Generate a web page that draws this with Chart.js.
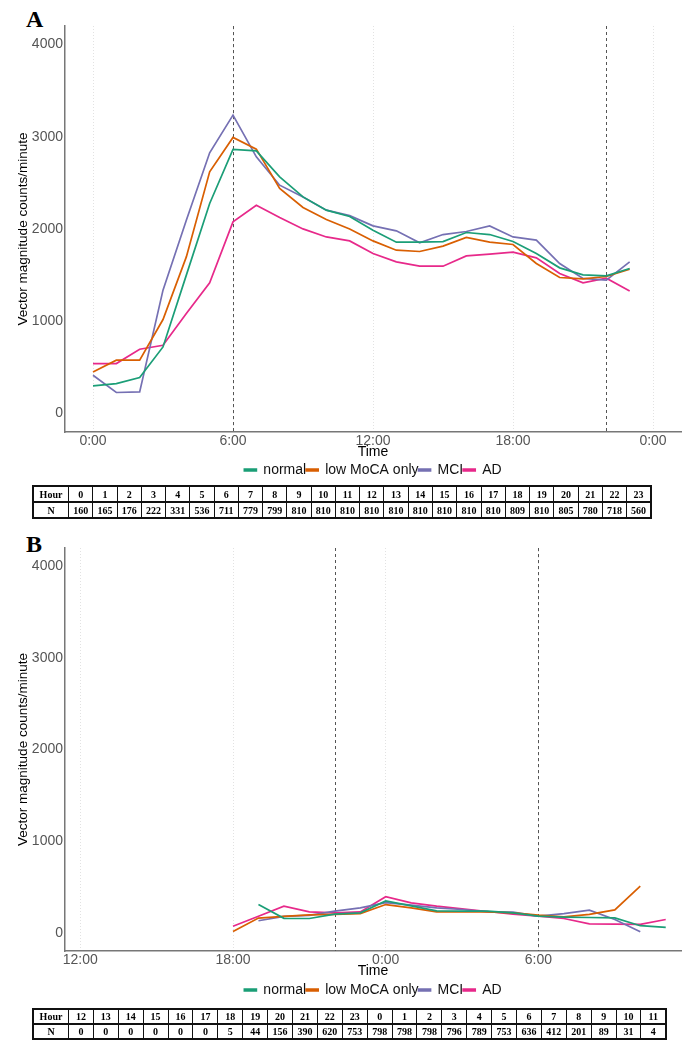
<!DOCTYPE html>
<html>
<head>
<meta charset="utf-8">
<script src="https://cdn.jsdelivr.net/npm/chart.js@4/dist/chart.umd.min.js"></script>
<style>
  body { margin: 0; background: #fff; }
  #page { position: relative; width: 691px; height: 1050px; }
  .panel { position: absolute; left: 0; width: 691px; }
  .tag { position: absolute; left: 26px; font: bold 24px "Liberation Serif", "Times New Roman", serif; color: #000; }
  table.ntab { position: absolute; left: 32px; border-collapse: collapse; border: 2px solid #111;
    font: bold 10px "Liberation Serif", "Times New Roman", serif; table-layout: fixed; }
  table.ntab td { border: 1px solid #111; text-align: center; padding: 0; }
  table.ntab tr:first-child td { border-bottom: 2px solid #111; }
  table.ntab td:first-child { width: 34px; }
</style>
</head>
<body>
<div id="page">
  <div class="tag" style="top:6px">A</div>
  <div class="panel" style="top:0;height:487px"><canvas id="chartA"></canvas></div>
  <table class="ntab" id="tableA" style="top:485px;width:620px;height:34px"></table>

  <div class="tag" style="top:531px">B</div>
  <div class="panel" style="top:520px;height:487px"><canvas id="chartB"></canvas></div>
  <table class="ntab" id="tableB" style="top:1008px;width:635px;height:32px"></table>
</div>
<script>
// --------------------------
// data
// --------------------------
const groupNames = ['normal', 'low MoCA only', 'MCI', 'AD'];
const groupColors = ['#1b9e77', '#d95f02', '#7570b3', '#e7298a'];

// panel A : hour of day 0..23
const hoursA = [0, 1, 2, 3, 4, 5, 6, 7, 8, 9, 10, 11, 12, 13, 14, 15, 16, 17, 18, 19, 20, 21, 22, 23];
const normalA = [299, 325, 390, 722, 1500, 2276, 2862, 2847, 2565, 2348, 2204, 2135, 1987, 1857, 1857, 1864, 1962, 1940, 1864, 1734, 1579, 1503, 1492, 1572];
const lowMocaA = [451, 578, 578, 1019, 1698, 2619, 2992, 2865, 2439, 2233, 2103, 2001, 1871, 1770, 1756, 1814, 1908, 1857, 1832, 1626, 1474, 1459, 1485, 1564];
const mciA = [415, 228, 234, 1337, 2095, 2826, 3234, 2782, 2475, 2348, 2204, 2145, 2034, 1980, 1850, 1940, 1973, 2034, 1914, 1879, 1626, 1464, 1445, 1644];
const adA = [542, 542, 697, 740, 1084, 1416, 2077, 2258, 2125, 2001, 1914, 1871, 1734, 1644, 1597, 1597, 1708, 1727, 1749, 1687, 1518, 1416, 1467, 1329];
const ticksA = [0, 6, 12, 18, 24];
const cutLinesA = [6, 22];

// panel B : night, 18:00 .. 11:00 next day
const hoursB = [18, 19, 20, 21, 22, 23, 0, 1, 2, 3, 4, 5, 6, 7, 8, 9, 10, 11];
const normalB = [null, 307, 157, 155, 202, 217, 347, 292, 238, 235, 235, 217, 180, 170, 166, 162, 76, 58];
const lowMocaB = [14, 160, 177, 195, 200, 209, 307, 271, 227, 227, 227, 217, 191, 173, 199, 249, 509, null];
const mciB = [null, 130, 177, 190, 236, 271, 329, 300, 271, 253, 227, 224, 180, 209, 245, 144, 11, null];
const adB = [70, 180, 289, 227, 217, 227, 393, 325, 289, 260, 231, 202, 180, 155, 97, 94, 90, 144];
const ticksB = [12, 18, 24, 30];
const cutLinesB = [22, 30];

const yTicks = [0, 1000, 2000, 3000, 4000];

// N tables
const tableHoursA = [0, 1, 2, 3, 4, 5, 6, 7, 8, 9, 10, 11, 12, 13, 14, 15, 16, 17, 18, 19, 20, 21, 22, 23];
const nA = [160, 165, 176, 222, 331, 536, 711, 779, 799, 810, 810, 810, 810, 810, 810, 810, 810, 810, 809, 810, 805, 780, 718, 560];
const tableHoursB = [12, 13, 14, 15, 16, 17, 18, 19, 20, 21, 22, 23, 0, 1, 2, 3, 4, 5, 6, 7, 8, 9, 10, 11];
const nB = [0, 0, 0, 0, 0, 0, 5, 44, 156, 390, 620, 753, 798, 798, 798, 796, 789, 753, 636, 412, 201, 89, 31, 4];

// --------------------------
const SANS = '"Liberation Sans", Arial, sans-serif';

// vertical dashed reference lines
const cutLinesPlugin = {
  id: 'cutLines',
  beforeDatasetsDraw(chart, args, opts) {
    const {ctx, chartArea, scales} = chart;
    ctx.save();
    ctx.strokeStyle = '#555';
    ctx.lineWidth = 1;
    ctx.setLineDash([3, 3]);
    (opts.hours || []).forEach(h => {
      const x = Math.round(scales.x.getPixelForValue(h)) + 0.5;
      ctx.beginPath();
      ctx.moveTo(x, chartArea.top);
      ctx.lineTo(x, chartArea.bottom);
      ctx.stroke();
    });
    ctx.restore();
  }
};

function makeDatasets(xs, series) {
  return series.map((vals, i) => ({
    label: groupNames[i],
    data: xs.map((x, j) => ({x: x, y: vals[j]})),
    borderColor: groupColors[i],
    backgroundColor: groupColors[i],
    borderWidth: 1.7,
    pointRadius: 0,
    tension: 0,
    spanGaps: false
  }));
}

function makeChart(id, datasets, xMin, xMax, xTicks, cuts, topPad, xAxisH, titlePad) {
  return new Chart(document.getElementById(id), {
    type: 'line',
    data: {datasets: datasets},
    options: {
      responsive: true,
      maintainAspectRatio: false,
      animation: false,
      layout: {padding: {top: topPad, right: 10, left: 0, bottom: 0}},
      scales: {
        x: {
          type: 'linear',
          min: xMin,
          max: xMax,
          afterBuildTicks: s => { s.ticks = xTicks.map(v => ({value: v})); },
          afterFit: s => { s.height = xAxisH; },
          ticks: {
            autoSkip: false,
            maxRotation: 0,
            padding: 1,
            color: '#555',
            font: {family: SANS, size: 14},
            callback: v => (v % 24) + ':00'
          },
          grid: {color: '#e2e2e2', lineWidth: 1, drawTicks: false},
          border: {display: true, color: '#777', width: 1.5, dash: [1, 2]},
          title: {display: true, text: 'Time', color: '#000', font: {family: SANS, size: 14}, padding: {top: 0, bottom: titlePad}}
        },
        y: {
          min: -200,
          max: 4200,
          afterBuildTicks: s => { s.ticks = yTicks.map(v => ({value: v})); },
          afterFit: s => { s.width = 65; },
          ticks: {padding: 2, color: '#555', font: {family: SANS, size: 14}, callback: v => String(v)},
          grid: {display: false, drawTicks: false},
          border: {display: true, color: '#777', width: 1.5},
          title: {display: true, text: 'Vector magnitude counts/minute', color: '#000', font: {family: SANS, size: 13.5}, padding: {top: 15, bottom: 0}}
        }
      },
      plugins: {
        legend: {
          position: 'bottom',
          fullSize: false,
          labels: {boxWidth: 12, boxHeight: 2, padding: 0, color: '#111', font: {family: SANS, size: 14}}
        },
        tooltip: {enabled: false},
        cutLines: {hours: cuts}
      }
    },
    plugins: [cutLinesPlugin]
  });
}

makeChart('chartA', makeDatasets(hoursA, [normalA, lowMocaA, mciA, adA]), -1.2, 25.2, ticksA, cutLinesA, 26, 31, 2);

// night hours run past midnight, so put them after 24
const xB = hoursB.map(h => h < 12 ? h + 24 : h);
makeChart('chartB', makeDatasets(xB, [normalB, lowMocaB, mciB, adB]), 11.4, 35.6, ticksB, cutLinesB, 28, 32, 3);

function fillTable(id, hours, counts) {
  const t = document.getElementById(id);
  let html = '<tr><td>Hour</td>' + hours.map(h => '<td>' + h + '</td>').join('') + '</tr>';
  html += '<tr><td>N</td>' + counts.map(n => '<td>' + n + '</td>').join('') + '</tr>';
  t.innerHTML = html;
}
fillTable('tableA', tableHoursA, nA);
fillTable('tableB', tableHoursB, nB);
</script>
</body>
</html>
